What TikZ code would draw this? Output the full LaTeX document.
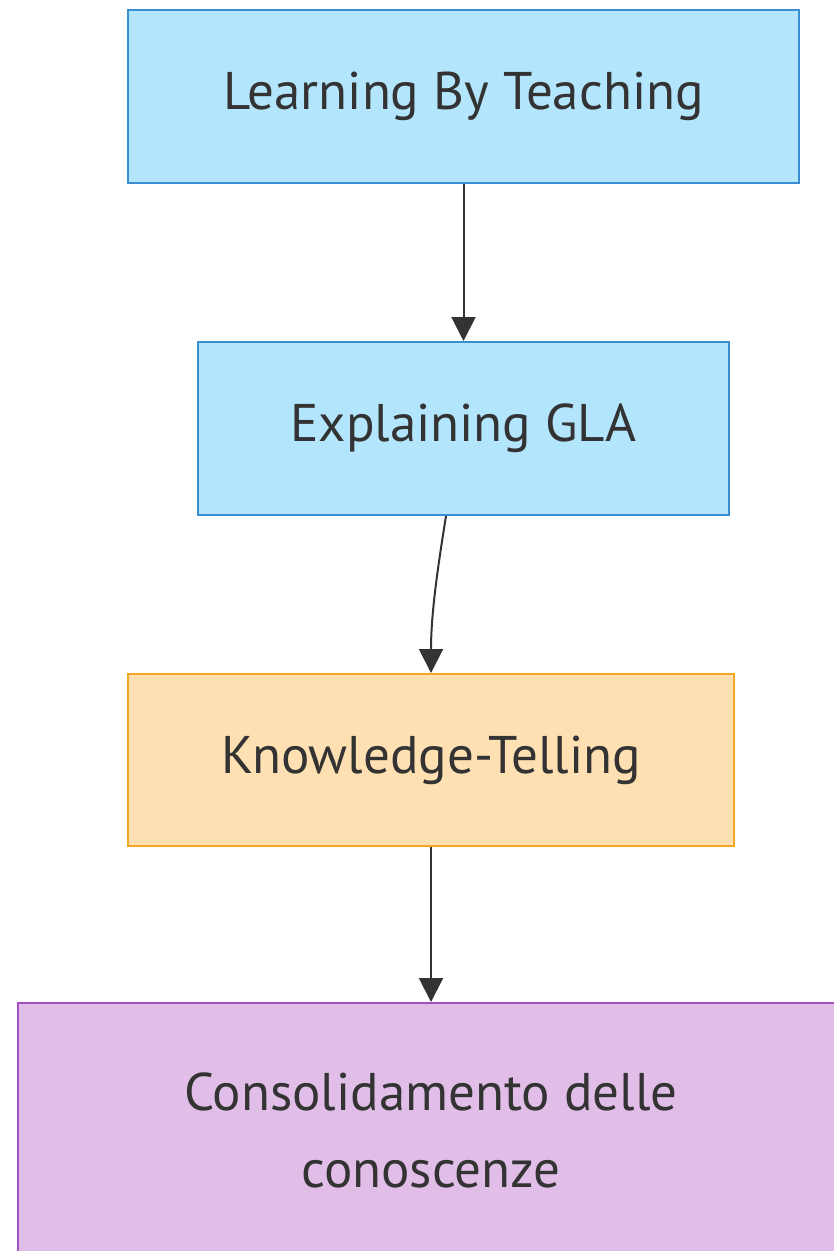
\documentclass[tikz,border=0pt]{standalone}
\usepackage{fontspec}
\setmainfont{PT Sans}
\usetikzlibrary{arrows.meta,calc}
\definecolor{bfill}{HTML}{B3E5FC}
\definecolor{bline}{HTML}{3A8FD3}
\definecolor{ofill}{HTML}{FFE0B2}
\definecolor{oline}{HTML}{F5A623}
\definecolor{pfill}{HTML}{E1BEE7}
\definecolor{pline}{HTML}{A251C2}
\definecolor{txt}{HTML}{333333}
\tikzset{
  box/.style={rectangle, line width=2pt, text=txt, font=\fontsize{53}{77}\selectfont, align=center, inner sep=0pt},
  bluebox/.style={box, draw=bline, fill=bfill},
  orangebox/.style={box, draw=oline, fill=ofill},
  purplebox/.style={box, draw=pline, fill=pfill},
  conn/.style={line width=2pt, draw=txt, -{Triangle[length=24pt,width=24pt]}}
}
\begin{document}
\begin{tikzpicture}[x=1pt,y=-1pt]
\useasboundingbox (0,0) rectangle (834,1251);
\clip (0,0) rectangle (834,1251);
\node[bluebox, minimum width=671pt, minimum height=173pt] (b1) at (463.5,96.5) {Learning By Teaching};
\node[bluebox, minimum width=531pt, minimum height=173pt] (b2) at (463.5,428.5) {Explaining GLA};
\node[orangebox, minimum width=606pt, minimum height=172pt] (b3) at (431,760) {Knowledge-Telling};
\node[purplebox, minimum width=826pt, minimum height=254pt] (b4) at (431,1130) {Consolidamento delle\\conoscenze};
\draw[conn] (b1.south -| b1.center) -- (b2.north -| b1.center);
\draw[conn] ([xshift=-17.5pt]b2.south) .. controls +(-8,50) and +(0,-60) .. (b3.north);
\draw[conn] (b3.south) -- (b4.north -| b3.south);
\end{tikzpicture}
\end{document}
